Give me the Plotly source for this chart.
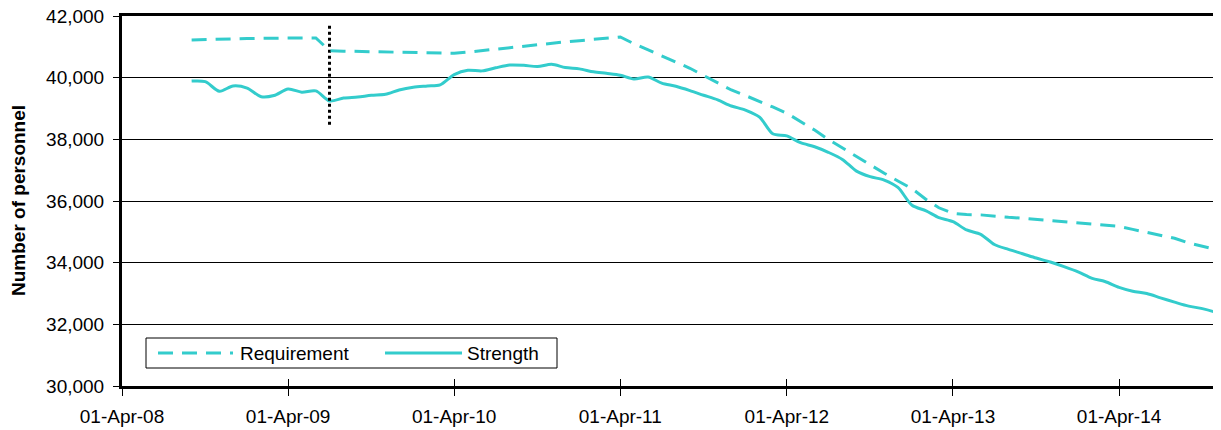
import pandas as pd
import plotly.graph_objects as go

# ---- data ----
months = pd.date_range("2008-09-01", "2014-12-01", freq="MS")

requirement = [
    41220, 41240, 41250, 41260,
    41270, 41280, 41285, 41290, 41290, 41290, 40875, 40860, 40850, 40840, 40830, 40825,
    40820, 40810, 40800, 40790, 40830, 40880, 40930, 40985, 41030, 41070, 41115, 41160,
    41200, 41245, 41285, 41320, 41100, 40900, 40700, 40500, 40305, 40070, 39830, 39600,
    39420, 39240, 39050, 38846, 38580, 38300, 38000, 37720, 37440, 37171, 36900, 36650,
    36400, 36050, 35780, 35600, 35560, 35550, 35500, 35470, 35440, 35400, 35360, 35320,
    35280, 35250, 35220, 35175, 35080, 34990, 34900, 34790, 34640, 34530, 34420, 34320,
]

strength = [
    39890, 39870, 39560, 39730,
    39660, 39380, 39420, 39630, 39530, 39570, 39245, 39340, 39370, 39430, 39460, 39600,
    39690, 39730, 39765, 40100, 40240, 40220, 40320, 40410, 40400, 40360, 40435, 40330,
    40285, 40190, 40140, 40080, 39955, 40020, 39825, 39720, 39580, 39430, 39280, 39080,
    38950, 38720, 38180, 38110, 37890, 37760, 37580, 37350, 36970, 36790, 36680, 36440,
    35860, 35680, 35460, 35330, 35060, 34920, 34590, 34430, 34290, 34150, 34020, 33870,
    33700, 33490, 33390, 33200, 33075, 33000, 32860, 32720, 32590, 32510, 32380, 32220,
]

series_names = ["Requirement", "Strength"]

marker_date = ["2009-07-01", "2009-07-01"]
marker_values = [38470, 41720]

x_range = ["2008-04-01", "2014-11-11"]
y_range = [30000, 42000]
y_ticks = [30000, 32000, 34000, 36000, 38000, 40000, 42000]

TEAL = "#33CCCC"
FONT = "Liberation Sans, Arial, sans-serif"
DASH = "15px,9px"

# page geometry: the page body has an 8px margin, so the figure is sized to fit
PAGE_OFF = 8
W, H = 1221 - PAGE_OFF, 430 - PAGE_OFF
PLOT_L, PLOT_T, PLOT_B = 122, 16, 386          # target plot area on the page
L, T = PLOT_L - PAGE_OFF, PLOT_T - PAGE_OFF
B = H - (PLOT_B - PAGE_OFF)
PW, PH = W - L, H - T - B


def px_x(p):
    return (p - PLOT_L) / PW


def px_y(p):
    return (PLOT_B - p) / PH


fig = go.Figure()

fig.add_trace(go.Scatter(
    x=months, y=requirement, name=series_names[0], mode="lines",
    line=dict(color=TEAL, width=3, dash=DASH),
    xaxis="x2", yaxis="y", showlegend=False,
))
fig.add_trace(go.Scatter(
    x=months, y=strength, name=series_names[1], mode="lines",
    line=dict(color=TEAL, width=3, shape="spline", smoothing=0.8),
    showlegend=False,
))
fig.add_trace(go.Scatter(
    x=marker_date, y=marker_values, mode="lines", showlegend=False,
    line=dict(color="black", width=3, dash="dot"),
))

axis_font = dict(family=FONT, size=19, color="black")

# ---- legend drawn as a boxed key ----
shapes = [
    dict(type="rect", xref="paper", yref="paper",
         x0=px_x(146), x1=px_x(557), y0=px_y(368), y1=px_y(338),
         line=dict(color="black", width=1), fillcolor="white", layer="above"),
    dict(type="line", xref="paper", yref="paper",
         x0=px_x(158), x1=px_x(233), y0=px_y(353), y1=px_y(353),
         line=dict(color=TEAL, width=3, dash=DASH), layer="above"),
    dict(type="line", xref="paper", yref="paper",
         x0=px_x(385), x1=px_x(462), y0=px_y(353), y1=px_y(353),
         line=dict(color=TEAL, width=3), layer="above"),
]

annotations = [
    dict(text="<b>Number of personnel</b>", textangle=-90,
         xref="paper", yref="paper", x=px_x(18), y=0.5,
         xanchor="center", yanchor="middle", showarrow=False,
         font=dict(family=FONT, size=19, color="black")),
    dict(text=series_names[0], xref="paper", yref="paper",
         x=px_x(238), y=px_y(353), xanchor="left", yanchor="middle",
         showarrow=False, font=dict(family=FONT, size=19, color="black")),
    dict(text=series_names[1], xref="paper", yref="paper",
         x=px_x(465), y=px_y(353), xanchor="left", yanchor="middle",
         showarrow=False, font=dict(family=FONT, size=19, color="black")),
]

fig.update_layout(
    width=W, height=H,
    margin=dict(l=L, r=0, t=T, b=B, autoexpand=False),
    paper_bgcolor="white", plot_bgcolor="white",
    font=dict(family=FONT, size=19, color="black"),
    showlegend=False,
    xaxis=dict(
        type="date", range=x_range, tick0="2008-04-01", dtick="M12",
        tickformat="%d-%b-%y", ticks="outside", ticklen=7, tickwidth=1,
        tickcolor="black", showline=True, linecolor="black", linewidth=3,
        mirror=True, showgrid=False, zeroline=False, tickfont=axis_font,
        ticklabelstandoff=4, automargin=False, ticklabeloverflow="allow",
    ),
    xaxis2=dict(
        type="date", range=x_range, tick0="2008-04-01", dtick="M12",
        overlaying="x", anchor="y", side="bottom",
        ticks="inside", ticklen=7, tickwidth=1, tickcolor="black",
        showticklabels=False, showgrid=False, zeroline=False, showline=False,
        automargin=False,
    ),
    yaxis=dict(
        range=y_range, tickvals=y_ticks, tickformat=",d",
        ticks="outside", ticklen=6, tickwidth=1, tickcolor="black",
        showline=True, linecolor="black", linewidth=3,
        showgrid=True, gridcolor="black", gridwidth=1, zeroline=False,
        tickfont=axis_font, ticklabelstandoff=5, automargin=False,
        ticklabeloverflow="allow",
    ),
    shapes=shapes,
    annotations=annotations,
)

fig.write_html("out.html")
